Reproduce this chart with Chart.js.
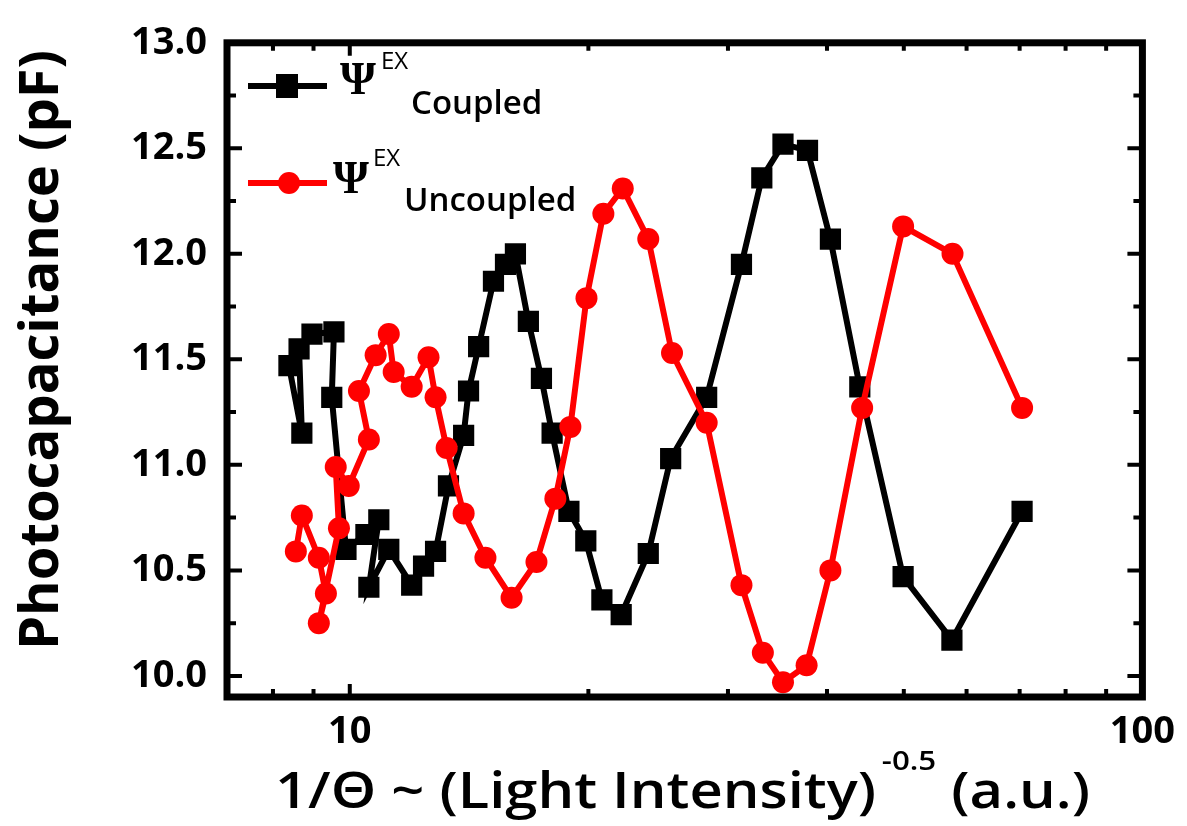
<!DOCTYPE html>
<html>
<head>
<meta charset="utf-8">
<script src="https://cdn.jsdelivr.net/npm/chart.js@4.4.1/dist/chart.umd.min.js"></script>
<style>
  html, body { margin: 0; padding: 0; background: #ffffff; }
  #wrap { width: 1187px; height: 826px; }
</style>
</head>
<body>
<div id="wrap"><canvas id="c" width="1187" height="826"></canvas></div>
<script>
// ---------------- data ----------------
const coupledX = [8.38, 8.70, 8.63, 8.96, 9.55, 9.49, 9.89, 10.48, 10.88, 10.57,
  11.20, 11.97, 12.39, 12.83, 13.32, 13.92, 14.12, 14.54, 15.18, 15.72,
  16.18, 16.80, 17.45, 18.0, 18.9, 19.85, 20.8, 22.0, 23.8, 25.4,
  28.2, 31.2, 33.1, 35.2, 37.8, 40.4, 44.0, 49.9, 57.5, 70.5];
const coupledY = [11.47, 11.15, 11.55, 11.62, 11.63, 11.32, 10.60, 10.67, 10.74, 10.42,
  10.60, 10.43, 10.52, 10.59, 10.90, 11.14, 11.35, 11.56, 11.87, 11.95,
  12.00, 11.68, 11.41, 11.15, 10.78, 10.64, 10.36, 10.29, 10.58, 11.03,
  11.32, 11.95, 12.36, 12.52, 12.49, 12.07, 11.37, 10.47, 10.17, 10.78];

const uncoupledX = [8.55, 8.70, 9.14, 9.33, 9.14, 9.69, 9.60, 9.97, 10.57, 10.27,
  10.78, 11.20, 11.36, 11.97, 12.57, 12.83, 13.25, 13.92, 14.83, 16.0,
  17.2, 18.17, 18.98, 19.89, 20.89, 22.1, 23.8, 25.5, 28.2, 31.2,
  33.2, 35.2, 37.7, 40.4, 44.3, 49.9, 57.6, 70.5];
const uncoupledY = [10.59, 10.76, 10.56, 10.39, 10.25, 10.70, 10.99, 10.90, 11.12, 11.35,
  11.52, 11.62, 11.44, 11.37, 11.51, 11.32, 11.08, 10.77, 10.56, 10.37,
  10.54, 10.84, 11.18, 11.79, 12.19, 12.31, 12.07, 11.53, 11.20, 10.43,
  10.11, 9.97, 10.05, 10.50, 11.27, 12.13, 12.00, 11.27];

const xTickValues = [10, 100];
const xMinorValues = [8, 9, 20, 30, 40, 50, 60, 70, 80, 90];
const yTickValues = [10.0, 10.5, 11.0, 11.5, 12.0, 12.5, 13.0];
const yMinorValues = [10.25, 10.75, 11.25, 11.75, 12.25, 12.75];

const yTitleText = 'Photocapacitance (pF)';
const xTitleMain = '1/\u0398 ~ (Light Intensity)';
const xTitleSup = '-0.5';
const xTitleTail = ' (a.u.)';
const legendSymbol = '\u03A8';
const legendSup = 'EX';
const legendSubs = ['Coupled', 'Uncoupled'];

// ---------------- drawing helpers ----------------
const BLACK = '#000000';
const RED = '#ff0000';

const framePlugin = {
  id: 'frameTicks',
  afterDatasetsDraw(chart) {
    const { ctx, chartArea: a, scales: { x, y } } = chart;
    ctx.save();
    ctx.strokeStyle = BLACK;
    ctx.lineCap = 'butt';
    ctx.lineWidth = 4;
    ctx.beginPath();
    yTickValues.forEach(v => {
      const p = y.getPixelForValue(v);
      ctx.moveTo(a.left, p); ctx.lineTo(a.left + 15, p);
      ctx.moveTo(a.right, p); ctx.lineTo(a.right - 15, p);
    });
    yMinorValues.forEach(v => {
      const p = y.getPixelForValue(v);
      ctx.moveTo(a.left, p); ctx.lineTo(a.left + 9, p);
      ctx.moveTo(a.right, p); ctx.lineTo(a.right - 9, p);
    });
    xTickValues.forEach(v => {
      const p = x.getPixelForValue(v);
      ctx.moveTo(p, a.bottom); ctx.lineTo(p, a.bottom - 13);
      ctx.moveTo(p, a.top); ctx.lineTo(p, a.top + 13);
    });
    xMinorValues.forEach(v => {
      const p = x.getPixelForValue(v);
      ctx.moveTo(p, a.bottom); ctx.lineTo(p, a.bottom - 8);
      ctx.moveTo(p, a.top); ctx.lineTo(p, a.top + 8);
    });
    ctx.stroke();
    ctx.lineWidth = 7;
    ctx.strokeRect(a.left, a.top, a.right - a.left, a.bottom - a.top);
    ctx.restore();
  }
};

const textPlugin = {
  id: 'texts',
  afterDraw(chart) {
    const { ctx } = chart;
    ctx.save();
    ctx.fillStyle = BLACK;

    // y-axis title (rotated)
    ctx.save();
    ctx.font = 'bold 54px "Open Sans"';
    const yLen = ctx.measureText(yTitleText).width;
    const ySpan = 600;
    ctx.translate(43, 350);
    ctx.rotate(-Math.PI / 2);
    ctx.scale(ySpan / yLen, 1);
    ctx.textAlign = 'center';
    ctx.textBaseline = 'middle';
    ctx.fillText(yTitleText, 0, 0);
    ctx.restore();

    // x-axis title with superscript
    ctx.save();
    const bigFont = '600 50px "Open Sans"';
    const supFont = '600 27px "Open Sans"';
    ctx.font = bigFont;
    const w1 = ctx.measureText(xTitleMain).width;
    const w3 = ctx.measureText(xTitleTail).width;
    ctx.font = supFont;
    const w2 = ctx.measureText(xTitleSup).width;
    const gap = 5;
    const total = w1 + gap + w2 + w3;
    const xLeft = 275, xRight = 1090;
    ctx.translate(xLeft, 0);
    ctx.scale((xRight - xLeft) / total, 1);
    ctx.textAlign = 'left';
    ctx.textBaseline = 'alphabetic';
    ctx.font = bigFont;
    ctx.fillText(xTitleMain, 0, 808);
    ctx.font = supFont;
    ctx.fillText(xTitleSup, w1 + gap, 770);
    ctx.font = bigFont;
    ctx.fillText(xTitleTail, w1 + gap + w2, 808);
    ctx.restore();

    // legend
    const items = [
      { color: BLACK, style: 'rect', ly: 86, mx: 287, psiX: 340, psiY: 94, exX: 381, exY: 69, subX: 411, subY: 114 },
      { color: RED, style: 'circle', ly: 183, mx: 289, psiX: 333, psiY: 193, exX: 373, exY: 166, subX: 404, subY: 211 }
    ];
    items.forEach((it, i) => {
      ctx.strokeStyle = it.color;
      ctx.fillStyle = it.color;
      ctx.lineWidth = 6;
      ctx.beginPath();
      ctx.moveTo(248, it.ly); ctx.lineTo(327, it.ly);
      ctx.stroke();
      ctx.beginPath();
      if (it.style === 'rect') {
        ctx.rect(it.mx - 11, it.ly - 12, 22, 24);
      } else {
        ctx.arc(it.mx, it.ly, 11, 0, Math.PI * 2);
      }
      ctx.fill();
      ctx.fillStyle = BLACK;
      ctx.textAlign = 'left';
      ctx.textBaseline = 'alphabetic';
      ctx.font = 'bold 46px "Liberation Serif"';
      ctx.fillText(legendSymbol, it.psiX, it.psiY);
      ctx.font = '24px "Open Sans"';
      ctx.fillText(legendSup, it.exX, it.exY);
      ctx.font = '600 33px "Open Sans"';
      ctx.fillText(legendSubs[i], it.subX, it.subY);
    });
    ctx.restore();
  }
};

const tickFont = { family: 'Open Sans', size: 38, weight: 'bold' };

new Chart(document.getElementById('c'), {
  type: 'scatter',
  data: {
    datasets: [
      {
        label: 'Coupled',
        data: coupledX.map((v, i) => ({ x: v, y: coupledY[i] })),
        showLine: true,
        borderColor: BLACK,
        backgroundColor: BLACK,
        borderWidth: 6,
        pointStyle: 'rect',
        pointRadius: 15,
        pointBorderWidth: 0,
        pointHoverRadius: 15,
        tension: 0,
        order: 2
      },
      {
        label: 'Uncoupled',
        data: uncoupledX.map((v, i) => ({ x: v, y: uncoupledY[i] })),
        showLine: true,
        borderColor: RED,
        backgroundColor: RED,
        borderWidth: 6,
        pointStyle: 'circle',
        pointRadius: 11,
        pointBorderWidth: 0,
        pointHoverRadius: 11,
        tension: 0,
        order: 1
      }
    ]
  },
  options: {
    responsive: false,
    animation: false,
    devicePixelRatio: 1,
    layout: { padding: { left: 0, right: 44, top: 34, bottom: 0 } },
    plugins: { legend: { display: false }, tooltip: { enabled: false } },
    scales: {
      x: {
        type: 'logarithmic',
        min: 7,
        max: 100,
        afterBuildTicks: s => { s.ticks = xTickValues.map(v => ({ value: v })); },
        afterFit: s => { s.height = 129; },
        grid: { display: false, drawTicks: false },
        border: { display: false },
        ticks: {
          color: BLACK,
          font: tickFont,
          padding: 12,
          maxRotation: 0,
          autoSkip: false,
          callback: v => String(v)
        }
      },
      y: {
        type: 'linear',
        min: 9.9,
        max: 13.0,
        afterBuildTicks: s => { s.ticks = yTickValues.map(v => ({ value: v })); },
        afterFit: s => { s.width = 227; },
        grid: { display: false, drawTicks: false },
        border: { display: false },
        ticks: {
          color: BLACK,
          font: tickFont,
          padding: 20,
          autoSkip: false,
          callback: v => Number(v).toFixed(1)
        }
      }
    }
  },
  plugins: [framePlugin, textPlugin]
});
</script>
</body>
</html>
